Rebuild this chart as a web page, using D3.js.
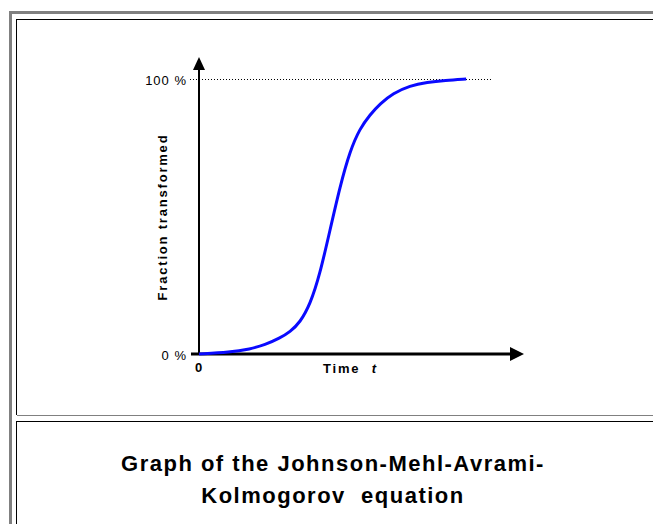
<!DOCTYPE html>
<html>
<head>
<meta charset="utf-8">
<script src="https://cdn.jsdelivr.net/npm/d3@7"></script>
<style>
  html, body { margin: 0; padding: 0; background: #fff; }
  svg { display: block; }
  text { font-family: "Liberation Sans", Arial, sans-serif; fill: #000; }
</style>
</head>
<body>
<svg width="653" height="524"></svg>
<script>
  // Avrami curve (time in arbitrary units, fraction in %)
  const timeVals = [0, 0.95, 1.57, 2.03, 2.49, 2.8, 3.11, 3.42, 3.72, 4.03, 4.34, 4.65, 4.95, 5.26, 5.57, 5.97, 6.49, 7.02, 7.57, 8.22];
  const fractionVals = [0, 0.6, 1.8, 3.3, 5.8, 8, 11.5, 18, 29, 45, 61, 74, 82, 87, 91, 94.8, 97.6, 98.8, 99.5, 100];
  const yTicks = [0, 100];
  const xTicks = [0];
  const captionLines = ["Graph of the Johnson-Mehl-Avrami-", "Kolmogorov  equation"];

  const svg = d3.select("svg");
  const width = +svg.attr("width");
  const height = +svg.attr("height");

  // table-like frame
  svg.append("rect").attr("x", 9).attr("y", 11).attr("width", 3).attr("height", height - 11).attr("fill", "#808080");
  svg.append("rect").attr("x", 9).attr("y", 11).attr("width", width - 9).attr("height", 3).attr("fill", "#808080");
  svg.append("line").attr("x1", 16.5).attr("x2", 16.5).attr("y1", 19).attr("y2", 415).attr("stroke", "#000");
  svg.append("line").attr("x1", 16).attr("x2", width).attr("y1", 19.5).attr("y2", 19.5).attr("stroke", "#000");
  svg.append("line").attr("x1", 17).attr("x2", width).attr("y1", 415.5).attr("y2", 415.5).attr("stroke", "#808080");
  svg.append("line").attr("x1", 16.5).attr("x2", 16.5).attr("y1", 421).attr("y2", height).attr("stroke", "#000");
  svg.append("line").attr("x1", 16).attr("x2", width).attr("y1", 421.5).attr("y2", 421.5).attr("stroke", "#000");

  const x = d3.scaleLinear().domain([0, 10]).range([199, 524]);
  const y = d3.scaleLinear().domain([0, 100]).range([354, 79]);

  // dotted 100 % guide
  svg.append("line")
    .attr("x1", 190).attr("x2", 492)
    .attr("y1", y(100) + 0.5).attr("y2", y(100) + 0.5)
    .attr("stroke", "#000")
    .attr("stroke-dasharray", "1,2");

  // axes with arrow heads
  svg.append("line")
    .attr("x1", x(0)).attr("x2", x(0))
    .attr("y1", y(0)).attr("y2", 66)
    .attr("stroke", "#000").attr("stroke-width", 2);
  svg.append("path")
    .attr("d", `M${x(0) - 6},70 L${x(0)},57 L${x(0) + 6},70 Z`)
    .attr("fill", "#000");
  svg.append("line")
    .attr("x1", 191).attr("x2", 512)
    .attr("y1", y(0)).attr("y2", y(0))
    .attr("stroke", "#000").attr("stroke-width", 3);
  svg.append("path")
    .attr("d", `M510,${y(0) - 7} L524,${y(0)} L510,${y(0) + 7} Z`)
    .attr("fill", "#000");

  // tick labels
  const yAxis = svg.append("g")
    .attr("transform", `translate(${x(0)},0)`)
    .call(d3.axisLeft(y).tickValues(yTicks).tickSize(0).tickPadding(12).tickFormat(d => d + " %"));
  yAxis.select(".domain").remove();
  yAxis.selectAll("text")
    .attr("font-family", "Liberation Sans, Arial, sans-serif")
    .attr("font-size", 13)
    .attr("fill", "#000")
    .attr("letter-spacing", "1px")
    .attr("dy", "0.4em");

  const xAxis = svg.append("g")
    .attr("transform", `translate(0,${y(0)})`)
    .call(d3.axisBottom(x).tickValues(xTicks).tickSize(0).tickPadding(9).tickFormat(d => d));
  xAxis.select(".domain").remove();
  xAxis.selectAll("text")
    .attr("font-family", "Liberation Sans, Arial, sans-serif")
    .attr("font-size", 13)
    .attr("font-weight", "bold")
    .attr("fill", "#000")
    .attr("dx", "-1");

  // axis titles
  const xTitle = svg.append("text")
    .attr("x", 323).attr("y", 373)
    .attr("font-size", 13).attr("font-weight", "bold")
    .attr("letter-spacing", "1.8px");
  xTitle.append("tspan").text("Time ");
  xTitle.append("tspan").attr("dx", 6).attr("font-style", "italic").text("t");

  svg.append("text")
    .attr("transform", `translate(167,217) rotate(-90)`)
    .attr("text-anchor", "middle")
    .attr("font-size", 13).attr("font-weight", "bold")
    .attr("letter-spacing", "1.8px")
    .text("Fraction transformed");

  // the curve
  const pts = timeVals.map((t, i) => [t, fractionVals[i]]);
  svg.append("path")
    .datum(pts)
    .attr("fill", "none")
    .attr("stroke", "#0a0aff")
    .attr("stroke-width", 3)
    .attr("stroke-linejoin", "round")
    .attr("d", d3.line().x(d => x(d[0])).y(d => y(d[1])).curve(d3.curveBasis));

  // caption
  svg.append("g").selectAll("text")
    .data(captionLines)
    .join("text")
    .attr("x", 333)
    .attr("y", (d, i) => 471 + i * 32)
    .attr("text-anchor", "middle")
    .attr("font-size", 22)
    .attr("font-weight", "bold")
    .attr("letter-spacing", "1.5px")
    .style("white-space", "pre")
    .text(d => d);
</script>
</body>
</html>
